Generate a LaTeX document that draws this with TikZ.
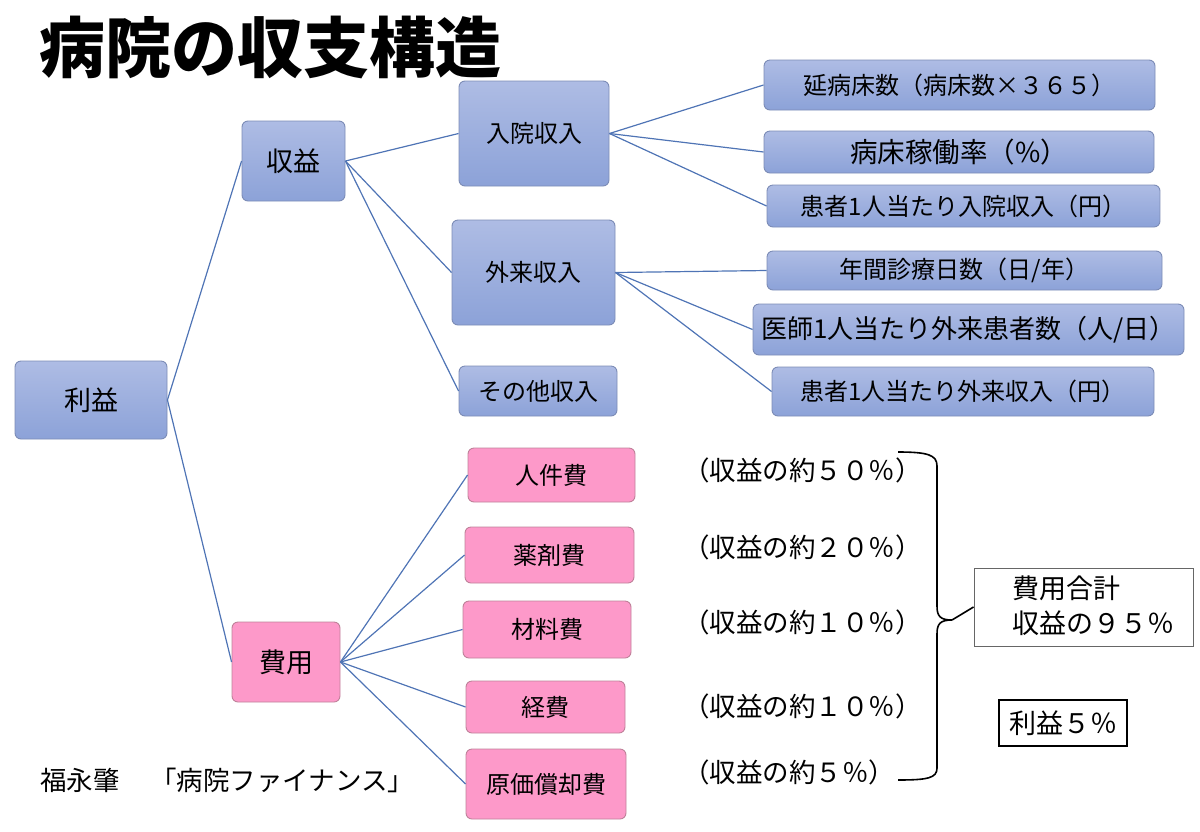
\documentclass[tikz,border=0pt]{standalone}
\usepackage{fontspec}
\setmainfont{Noto Sans CJK JP}
\usetikzlibrary{shadings}
\definecolor{bluetop}{HTML}{AEBCE4}
\definecolor{bluebot}{HTML}{8CA2D8}
\definecolor{bluebd}{HTML}{7C8CB6}
\definecolor{pinkfill}{HTML}{FD99C9}
\definecolor{pinkbd}{HTML}{BF8199}
\definecolor{linecol}{HTML}{4F74B5}
\tikzset{
  bluebox/.style={draw=bluebd, top color=bluetop, bottom color=bluebot, rounded corners=6pt, line width=0.9pt, inner sep=0pt, text=black},
  pinkbox/.style={draw=pinkbd, fill=pinkfill, rounded corners=6pt, line width=0.9pt, inner sep=0pt, text=black},
  conn/.style={draw=linecol, line width=1.2pt},
  pct/.style={anchor=west, inner sep=0pt, font=\fontsize{26.5}{30}\selectfont},
  f27/.style={font=\fontsize{27}{30}\selectfont},
  f24/.style={font=\fontsize{24}{28}\selectfont},
}
\begin{document}
\begin{tikzpicture}[x=1pt,y=-1pt]
\useasboundingbox (0,0) rectangle (1200,831);
% title
\node[anchor=west, inner sep=0pt, font=\fontsize{66}{70}\selectfont\bfseries] (title) at (39,47) {病院の収支構造};
% level 0
\node[bluebox, f27, minimum width=152, minimum height=78] (rieki) at (91,400) {利益};
% level 1
\node[bluebox, f27, minimum width=103, minimum height=80] (shueki) at (293.5,161) {収益};
\node[pinkbox, f27, minimum width=108, minimum height=80] (hiyo) at (286,662) {費用};
% revenue level 2
\node[bluebox, f24, minimum width=150, minimum height=105] (nyuin) at (534,133.5) {入院収入};
\node[bluebox, f24, minimum width=163, minimum height=105] (gairai) at (533.5,272.5) {外来収入};
\node[bluebox, f24, minimum width=158, minimum height=50] (sonota) at (538,391) {その他収入};
% revenue level 3
\node[bluebox, f24, minimum width=391, minimum height=50] (n1) at (959.5,85) {延病床数（病床数×３６５）};
\node[bluebox, font=\fontsize{27.5}{30}\selectfont, minimum width=390, minimum height=42] (n2) at (959,152) {病床稼働率（\%）};
\node[bluebox, f24, minimum width=393, minimum height=42] (n3) at (963.5,206) {患者1人当たり入院収入（円）};
\node[bluebox, f24, minimum width=395, minimum height=39] (g1) at (964.5,270.5) {年間診療日数（日/年）};
\node[bluebox, font=\fontsize{26}{30}\selectfont, minimum width=431, minimum height=51] (g2) at (968.5,329.5) {医師1人当たり外来患者数（人/日）};
\node[bluebox, f24, minimum width=382, minimum height=49] (g3) at (963,391.5) {患者1人当たり外来収入（円）};
% costs
\node[pinkbox, f24, minimum width=167, minimum height=54] (c1) at (551.5,475) {人件費};
\node[pinkbox, f24, minimum width=169, minimum height=56] (c2) at (549.5,555) {薬剤費};
\node[pinkbox, f24, minimum width=168, minimum height=57] (c3) at (547,629.5) {材料費};
\node[pinkbox, f24, minimum width=159, minimum height=52] (c4) at (545.5,707) {経費};
\node[pinkbox, f24, minimum width=160, minimum height=70] (c5) at (546,784) {原価償却費};
% percentages
\node[pct] (p1) at (683,470) {（収益の約５０％）};
\node[pct] (p2) at (683,547) {（収益の約２０％）};
\node[pct] (p3) at (683,622) {（収益の約１０％）};
\node[pct] (p4) at (683,706) {（収益の約１０％）};
\node[pct] (p5) at (683,772) {（収益の約５％）};
% totals
\node[draw=black!60, line width=0.9pt, minimum width=219, minimum height=78, inner sep=0pt] (sum) at (1083.5,607) {};
\node[anchor=west, inner sep=0pt, align=left, font=\fontsize{27}{35}\selectfont] (sumtxt) at (1012,606) {費用合計\\収益の９５％};
\node[draw=black, line width=2.5pt, minimum width=128, minimum height=46, inner sep=0pt, font=\fontsize{27}{30}\selectfont] (profit) at (1063,723) {利益５％};
% brace
\coordinate (btip) at (952,620);
\draw[line width=1.6pt] (898,452) .. controls (928,452) and (937,455) .. (937,466) -- (937,606) .. controls (937,616) and (940,620) .. (btip)
  .. controls (940,620) and (937,624) .. (937,634) -- (937,768) .. controls (937,778) and (928,780) .. (898,780);
\draw[line width=1.6pt] (btip) -- (sum.west);
% footer
\node[anchor=west, inner sep=0pt, font=\fontsize{26.5}{30}\selectfont] (src) at (40,780) {福永肇\hspace{4pt}　「病院ファイナンス」};
% connectors
\draw[conn] (rieki.east) -- (shueki.west);
\draw[conn] (rieki.east) -- (hiyo.west);
\draw[conn] (shueki.east) -- (nyuin.west);
\draw[conn] (shueki.east) -- (gairai.west);
\draw[conn] (shueki.east) -- (sonota.west);
\draw[conn] (nyuin.east) -- (n1.west);
\draw[conn] (nyuin.east) -- (n2.west);
\draw[conn] (nyuin.east) -- (n3.west);
\draw[conn] (gairai.east) -- (g1.west);
\draw[conn] (gairai.east) -- (g2.west);
\draw[conn] (gairai.east) -- (g3.west);
\draw[conn] (hiyo.east) -- (c1.west);
\draw[conn] (hiyo.east) -- (c2.west);
\draw[conn] (hiyo.east) -- (c3.west);
\draw[conn] (hiyo.east) -- (c4.west);
\draw[conn] (hiyo.east) -- (c5.west);
\end{tikzpicture}
\end{document}
